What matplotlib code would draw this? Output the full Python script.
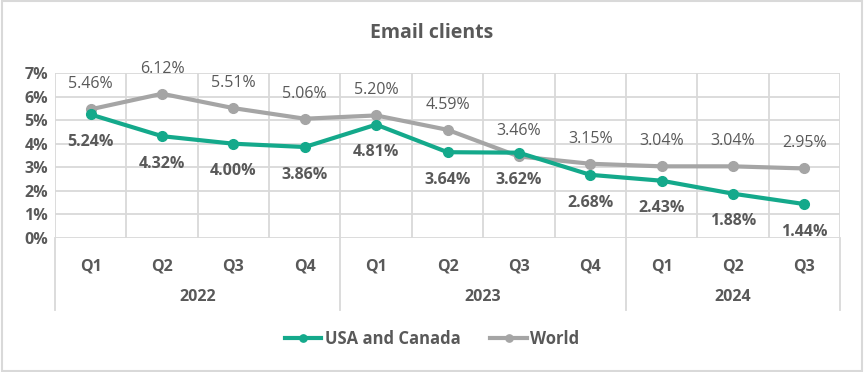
import matplotlib

matplotlib.use("Agg")
import matplotlib.pyplot as plt
import numpy as np

quarters = ["Q1", "Q2", "Q3", "Q4", "Q1", "Q2", "Q3", "Q4", "Q1", "Q2", "Q3"]
years = ["2022", "2023", "2024"]
year_sizes = [4, 4, 3]
usa = [5.24, 4.32, 4.00, 3.86, 4.81, 3.64, 3.62, 2.68, 2.43, 1.88, 1.44]
world = [5.46, 6.12, 5.51, 5.06, 5.20, 4.59, 3.46, 3.15, 3.04, 3.04, 2.95]

TEAL = "#14A98B"
GREY = "#A5A5A5"
INK = "#595959"
GRID = "#D9D9D9"
FS = 11.5

plt.rcParams["font.family"] = ["Open Sans", "DejaVu Sans"]

fig = plt.figure(figsize=(8.64, 3.72), dpi=100)
ax = fig.add_axes([55 / 864, 1 - 238 / 372, 785 / 864, 165 / 372])

x = np.arange(len(quarters))
ax.plot(x, world, color=GREY, lw=3, marker="o", ms=7, zorder=3, label="World")
ax.plot(x, usa, color=TEAL, lw=3, marker="o", ms=7, zorder=4, label="USA and Canada")

for xi, v in zip(x, world):
    ax.annotate(f"{v:.2f}%", (xi, v), textcoords="offset points", xytext=(0, 18),
                ha="center", va="center", fontsize=FS, color=INK)
for xi, v in zip(x, usa):
    ax.annotate(f"{v:.2f}%", (xi, v), textcoords="offset points", xytext=(0, -20),
                ha="center", va="center", fontsize=FS, color=INK, fontweight="bold")

ax.set_xlim(-0.5, len(quarters) - 0.5)
ax.set_ylim(0, 7)
ax.set_yticks(range(8))
ax.set_yticklabels([f"{i}%" for i in range(8)], fontsize=FS, color=INK,
                   fontweight="bold")
ax.set_xticks(x)
ax.set_xticklabels(quarters, fontsize=FS, color=INK, fontweight="bold")
ax.tick_params(axis="both", length=0)
ax.tick_params(axis="x", pad=15)
ax.tick_params(axis="y", pad=5)

for yv in range(8):
    ax.axhline(yv, color=GRID, lw=1.3, zorder=1)
for b in np.arange(-0.5, len(quarters), 1.0):
    ax.axvline(b, color=GRID, lw=1.3, zorder=1)
for s in ax.spines.values():
    s.set_visible(False)

# year group labels and separators below axis
trans = ax.get_xaxis_transform()
edges = np.concatenate([[0], np.cumsum(year_sizes)]) - 0.5
for e in edges:
    ax.plot([e, e], [0, -72 / 165], transform=trans, color=GRID, lw=1.3,
            clip_on=False)
for i, yr in enumerate(years):
    mid = (edges[i] + edges[i + 1]) / 2
    ax.text(mid, -59 / 165, yr, transform=trans, ha="center", va="center",
            fontsize=FS, color=INK, fontweight="bold")

fig.text(0.5, 1 - 33 / 372, "Email clients", ha="center", va="center",
         fontsize=14, color=INK, fontweight="bold")

handles, labels = ax.get_legend_handles_labels()
fig.legend(handles[::-1], labels[::-1], loc="center", bbox_to_anchor=(0.5, 1 - 339 / 372),
           ncol=2, frameon=False, labelcolor=INK,
           prop={"weight": "bold", "size": 12}, handlelength=2.2,
           handletextpad=0.2, columnspacing=1.8, markerscale=0.75)

fig.patches.append(plt.Rectangle((0.002, 0.003), 0.996, 0.994, transform=fig.transFigure,
                                 fill=False, edgecolor="#D9D9D9", lw=1.5))

fig.savefig("out.png", dpi=100)
